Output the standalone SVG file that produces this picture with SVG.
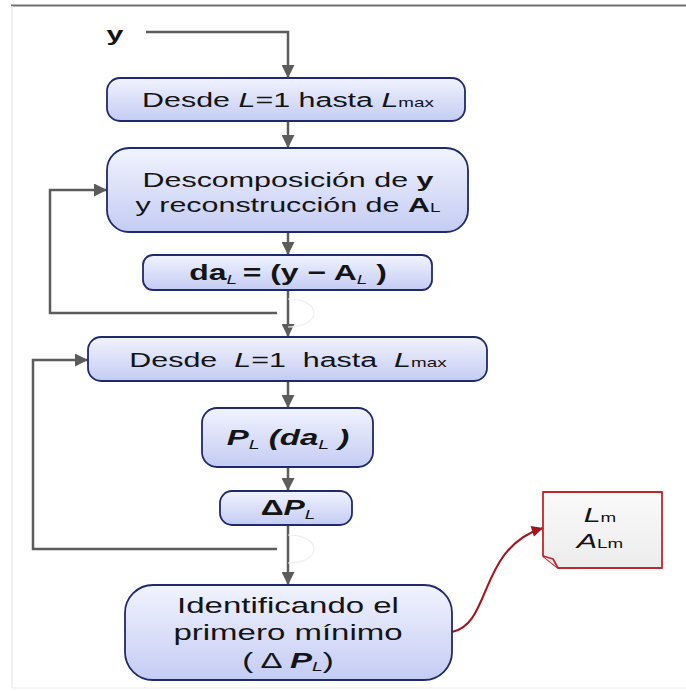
<svg xmlns="http://www.w3.org/2000/svg" width="686" height="691" viewBox="0 0 686 691">
  <style>
    .box { fill: url(#boxFill); stroke: #1f2a6e; stroke-width: 1.8; }
    .note { fill: url(#noteFill); stroke: #c0272d; stroke-width: 1.8; stroke-linejoin: round; }
    .t { font-family: "Liberation Sans", Arial, sans-serif; font-size: 21px; fill: #141414; }
    .big { font-size: 22px; }
    .b { font-weight: bold; }
    .i { font-style: italic; }
    .sm { font-size: 13px; }
    .wire { fill: none; stroke: #5c5c5c; stroke-width: 2.5; }
    .red { fill: none; stroke: #a3141c; stroke-width: 2; }
    .hop { fill: none; stroke: #f0f0f0; stroke-width: 1.2; }
  </style>
  <defs>
    <linearGradient id="boxFill" x1="0" y1="0" x2="0" y2="1">
      <stop offset="0" stop-color="#f1f3fe"/>
      <stop offset="1" stop-color="#c4ccf3"/>
    </linearGradient>
    <linearGradient id="noteFill" x1="0" y1="0" x2="0" y2="1">
      <stop offset="0" stop-color="#fafafa"/>
      <stop offset="1" stop-color="#ececec"/>
    </linearGradient>
    <marker id="arr" viewBox="0 0 10 10" refX="10" refY="5" markerWidth="6" markerHeight="5.2" orient="auto" markerUnits="strokeWidth">
      <path d="M0,0 L10,5 L0,10 Z" fill="#5c5c5c"/>
    </marker>
    <marker id="arrRed" viewBox="0 0 10 10" refX="10" refY="5" markerWidth="7" markerHeight="5.6" orient="auto" markerUnits="strokeWidth">
      <path d="M0,0 L10,5 L0,10 Z" fill="#a3141c"/>
    </marker>
  </defs>

  <rect width="686" height="691" fill="#ffffff"/>
  <!-- page frame -->
  <line x1="11" y1="5.5" x2="686" y2="5.5" stroke="#707070" stroke-width="2"/>
  <line x1="12" y1="6" x2="12" y2="688" stroke="#ececec" stroke-width="1.5"/>
  <line x1="12" y1="688" x2="686" y2="688" stroke="#f2f2f2" stroke-width="1.5"/>

  <g id="connectors">
    <path class="wire" d="M146,32 H288 V78" marker-end="url(#arr)"/>
    <path class="wire" d="M288,121 V148" marker-end="url(#arr)"/>
    <path class="wire" d="M288,232 V255" marker-end="url(#arr)"/>
    <path class="wire" d="M288,290 V337" marker-end="url(#arr)"/>
    <path class="wire" d="M277,313 H50 V190 H107" marker-end="url(#arr)"/>
    <path class="hop" d="M288,299 C305,299 314,306 314,313 C314,320 305,327 288,327"/>
    <path class="wire" d="M288,381 V408" marker-end="url(#arr)"/>
    <path class="wire" d="M288,467 V491" marker-end="url(#arr)"/>
    <path class="wire" d="M288,525 V585" marker-end="url(#arr)"/>
    <path class="wire" d="M277,549 H33 V360 H88" marker-end="url(#arr)"/>
    <path class="hop" d="M288,535 C305,535 314,542 314,549 C314,556 305,563 288,563"/>
    <path class="red" d="M452,632 C492,624 478,548 543,528" marker-end="url(#arrRed)"/>
  </g>

  <g id="input-y">
    <text class="t b" transform="translate(115,41) scale(1.45,1)" text-anchor="middle">y</text>
  </g>

  <g id="loop1">
    <rect class="box" x="107" y="78" width="358" height="43" rx="13"/>
    <text class="t" transform="translate(288,107) scale(1.45,1)" text-anchor="middle">Desde <tspan class="i">L</tspan>=1 hasta <tspan class="i">L</tspan><tspan class="sm">max</tspan></text>
  </g>

  <g id="decomp">
    <rect class="box" x="107" y="148" width="361" height="84" rx="22"/>
    <text class="t" transform="translate(288,187) scale(1.45,1)" text-anchor="middle">Descomposición de <tspan class="b">y</tspan></text>
    <text class="t" transform="translate(288,212) scale(1.45,1)" text-anchor="middle">y reconstrucción de <tspan class="b">A</tspan><tspan class="sm">L</tspan></text>
  </g>

  <g id="diff">
    <rect class="box" x="143" y="255" width="289" height="35" rx="10"/>
    <text class="t big b" transform="translate(288,280) scale(1.45,1)" text-anchor="middle">da<tspan class="sm i" style="font-weight:normal" dy="4">L</tspan><tspan dy="-4" dx="4">= (y − A</tspan><tspan class="sm i" style="font-weight:normal" dy="4">L</tspan><tspan dy="-4"> )</tspan></text>
  </g>

  <g id="loop2">
    <rect class="box" x="88" y="337" width="399" height="44" rx="13"/>
    <text class="t" transform="translate(288,367) scale(1.45,1)" text-anchor="middle" xml:space="preserve">Desde  <tspan class="i">L</tspan>=1  hasta  <tspan class="i">L</tspan><tspan class="sm">max</tspan></text>
  </g>

  <g id="power">
    <rect class="box" x="202" y="408" width="171" height="59" rx="15"/>
    <text class="t big b i" transform="translate(288,445) scale(1.5,1)" text-anchor="middle">P<tspan class="sm" style="font-weight:normal" dy="4">L</tspan><tspan dy="-4"> (da</tspan><tspan class="sm" style="font-weight:normal" dy="4">L</tspan><tspan dy="-4"> )</tspan></text>
  </g>

  <g id="delta">
    <rect class="box" x="220" y="491" width="132" height="34" rx="12"/>
    <text class="t big b" transform="translate(288,515) scale(1.45,1)" text-anchor="middle">Δ<tspan class="i">P</tspan><tspan class="sm i" style="font-weight:normal" dy="4">L</tspan></text>
  </g>

  <g id="minimum">
    <rect class="box" x="125" y="585" width="327" height="95" rx="28"/>
    <text class="t big" transform="translate(288,613) scale(1.5,1)" text-anchor="middle">Identificando el</text>
    <text class="t big" transform="translate(288,640) scale(1.5,1)" text-anchor="middle">primero mínimo</text>
    <text class="t big" transform="translate(288,668) scale(1.5,1)" text-anchor="middle">( Δ <tspan class="b i">P</tspan><tspan class="sm i" dy="3">L</tspan><tspan dy="-3">)</tspan></text>
  </g>

  <g id="result">
    <path class="note" d="M543,492 H662 V568 H558 L543,556 Z"/>
    <path class="note" d="M543,556 L553,559 L558,568"/>
    <text class="t" transform="translate(600,522) scale(1.45,1)" text-anchor="middle"><tspan class="i">L</tspan><tspan class="sm">m</tspan></text>
    <text class="t" transform="translate(600,548) scale(1.45,1)" text-anchor="middle"><tspan class="i">A</tspan><tspan class="sm">Lm</tspan></text>
  </g>
</svg>
